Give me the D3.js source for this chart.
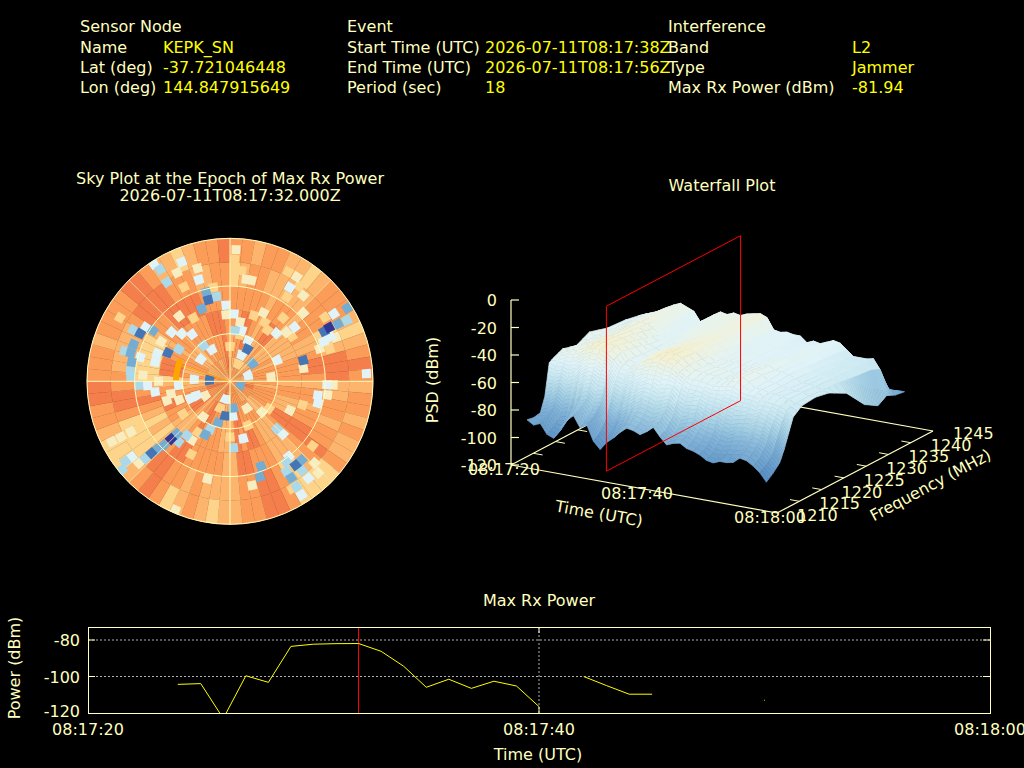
<!DOCTYPE html>
<html>
<head>
<meta charset="utf-8">
<script src="https://cdn.jsdelivr.net/npm/d3@7"></script>
<style>
html, body { margin: 0; background: #000; }
svg { display: block; }
text { font-family: "DejaVu Sans", sans-serif; font-size: 16px; fill: #ffffbf; }
</style>
</head>
<body>
<svg id="chart" width="1024" height="768"></svg>
<script>
var cream = '#ffffbf', yellow = '#ffff00', red = '#ff0000';

// header
var headerCol1 = [['Name', 'KEPK_SN'], ['Lat (deg)', '-37.721046448'], ['Lon (deg)', '144.847915649']];
var headerCol2 = [['Start Time (UTC)', '2026-07-11T08:17:38Z'], ['End Time (UTC)', '2026-07-11T08:17:56Z'], ['Period (sec)', '18']];
var headerCol3 = [['Band', 'L2'], ['Type', 'Jammer'], ['Max Rx Power (dBm)', '-81.94']];

// sky plot, orange background: one row per 5 deg of azimuth, one column per 15 deg of zenith angle
var skyBackground = [
  [8,7,8,8,6,8],[7,8,8,8,7,8],[7,8,9,8,8,7],[8,9,9,8,8,8],[8,8,8,8,7,8],[7,7,7,7,7,7],
  [8,7,8,8,7,7],[8,7,9,8,7,6],[7,8,9,8,7,7],[7,7,7,7,8,8],[7,7,7,8,8,8],[8,7,7,8,8,8],
  [8,8,7,7,6,7],[8,7,7,7,6,6],[7,8,8,8,7,7],[7,8,8,9,9,8],[7,8,8,9,9,9],[7,8,8,8,9,8],
  [8,8,7,7,7,7],[8,7,8,8,7,8],[9,8,8,8,8,8],[9,8,7,7,8,7],[8,8,7,8,7,8],[8,8,7,8,8,7],
  [8,8,9,9,8,7],[8,7,9,9,9,8],[8,7,8,8,8,6],[8,7,7,7,7,6],[7,8,7,7,6,6],[7,8,7,7,6,6],
  [8,8,8,8,8,8],[8,8,9,8,9,9],[8,8,9,8,9,9],[8,9,8,9,8,8],[8,9,9,9,8,8],[8,7,8,7,7,7],
  [8,7,7,7,7,7],[8,7,7,8,7,6],[8,8,8,8,7,7],[9,8,8,8,8,8],[9,8,8,8,7,7],[8,9,8,8,8,6],
  [8,9,9,9,8,8],[8,8,8,9,9,9],[8,8,7,8,9,8],[8,8,7,7,7,7],[8,9,7,6,6,6],[8,9,8,7,6,6],
  [8,8,8,6,6,6],[8,8,9,7,6,7],[9,8,9,8,8,8],[9,8,8,9,9,8],[8,7,8,8,9,9],[8,7,7,7,8,9],
  [8,7,6,6,8,8],[8,8,9,6,7,8],[8,7,9,6,7,8],[8,7,9,6,7,7],[7,8,8,6,7,8],[7,8,8,6,7,8],
  [7,7,7,7,8,8],[7,7,8,8,9,8],[8,7,8,8,9,9],[8,7,8,9,9,9],[8,8,8,9,9,8],[8,7,8,9,8,7],
  [7,8,8,9,8,7],[7,8,8,9,8,6],[8,8,9,8,7,7],[8,8,9,8,7,8],[9,9,9,8,8,8],[9,8,8,8,8,9]
];
// single cells standing out from it: azimuth, zenith angle, level
var skyCells = [
  [61.5,71,0],[62,67,1],[62,77,2],[62.4,83,3],[58,87,2],[57,78,4],[67,64,4],[66,69,4],[67.4,72,5],[74,48,1],
  [80,47,5],[66,32.5,4],[28.4,23,1],[23.6,18,4],[24,28,4],[51.6,18,2],[72,12,4],[84,26,5],[44,42,4],[50,53,4],
  [49,47,5],[47,63,5],[32.5,70,4],[32.6,78,5],[40.5,71,5],[26,48,5],[30.5,43,6],[9,65,5],[12,65,5],[6,70,6],[2.6,83,5],
  [2.3,77,6],[5.6,32,3],[13,33,4],[3.4,42.5,4],[9.6,38,5],[357,48,4],[356.6,42,5],[345,53,1],[345,58,2],
  [351,54,3],[338.7,49,2],[343,67,4],[338,81,4],[328,83,3],[327.5,74,3],[327,88,4],[334,76,5],[298,64,1],[303.4,58,2],
  [298,69,3],[291,65,2],[286,65,2],[281,63,2],[276,63,3],[272.5,62.5,3],[286,69,3],[285,58.5,4],[302.6,63,4],[294.6,43,1],
  [291,49,4],[284.5,48.6,4],[302,38,3],[310,48,4],[314.6,42.6,4],[321,38,4],[323.5,28,3],[330,23,4],[307,23,4],[273,13,1],
  [273,22.6,4],[112,7,2],[193.7,11.6,4],[173,17,2],[188,22,1],[175.5,22,4],[196,27,2],[205,37,2],[202.6,32.6,3],[217,28,5],
  [177,42,3],[167,37,4],[160,57,2],[162.6,63,2],[168,67,5],[193,63,5],[203,88,5],[187,88,6],[225.6,52,0],[225.5,47,2],
  [220.4,50,3],[226,58,2],[227.5,67,1],[227,62.5,2],[227.7,72,3],[228,77,5],[232.4,78,4],[232.5,83,3],[230.6,88,3],[218.7,43.5,3],
  [213,44,5],[243,70,5],[243,77,5],[243,83.5,5],[243,63,6],[267.5,57.6,3],[267,52,4],[262,47.6,4],[247,22.7,4],[246.6,27,4],
  [253,41.5,5],[265.6,32.5,4],[86.8,86,4],[99,56,4],[104,57,4],[92,65,5],[92,61,4],[115.8,42,5],[135.4,42,3],[135,47,4],
  [134,28,5],[142,67,1],[148,67,3],[147.6,72,2],[147.8,78.5,3],[147.8,84.5,4],[141,78.5,4],[137.8,67,2],[142,60,4],[134,74,5],[136,80,5],
  [145,62,3],[141,72,3],
  [56,72,6],[70,60,5],[72,66,6],[36,74,6],[28,78,6],[34,64,6],[40,52,6],[54,48,6],[20,44,6],[36,40,6],
  [334,66,6],[344,74,5],[350,60,6],[322,52,5],[330,46,6],[300,50,5],[274,55,5],[270,45,5],[258,38,5],[250,34,5],
  [240,18,5],[235,36,6],[212,38,6],[208,52,6],[200,18,6],[180,35,6],[158,30,6],[148,20,5],[125,30,6],[108,48,6],
  [98,62,5],[150,78,6],[128,66,6],[132,82,6],[238,72,6],[236,88,6],[300,80,6],[12,30,6],[0,22,6],[25,12,6]
];
var skyLevelColors = ['#313695','#4575b4','#74add1','#abd9e9','#e0f3f8','#f8edc0','#fdd48a','#fdb46c','#fb9d58','#f47f4c'];
// strongest cell and its direction
var peakAzimuths = [271, 294], peakZenith = 34, peakDirection = 288;

// waterfall: seconds after 08:17:20, one value per second
var psdTimes = [2.4,3.4,4.4,5.4,6.4,7.4,8.4,9.4,10.4,11.4,12.4,13.4,14.4,15.4,16.4,17.4,18.4,19.4,20.4,21.4,22.4,23.4,24.4,25.4,26.4,27.4,28.4,29.4,30.4,31.4,32.4,33.4,34.4,35.4,36.4,37.4,38.4];
var psdFreqs = [1210,1211.5,1213,1214,1215,1216,1218,1221,1224,1228,1232,1235,1237,1239,1241];
var psd1210 = [-85,-88,-86,-93,-95,-87,-80,-76,-84,-81,-92,-97,-91,-87,-82,-78,-79,-81,-78,-74,-80,-85,-83,-82,-85,-86,-88,-91,-92,-90,-90,-89,-85,-86,-89,-93,-99];
var psd1211 = [-86,-87,-84,-90,-92,-84,-77,-74,-80,-78,-88,-93,-88,-84,-79,-75,-76,-78,-75,-72,-77,-82,-80,-79,-82,-84,-85,-88,-89,-87,-87,-86,-82,-83,-86,-90,-95];
var psd1213 = [-85,-83,-80,-85,-84,-77,-71,-69,-74,-72,-80,-84,-79,-76,-71,-68,-69,-71,-69,-66,-70,-75,-73,-72,-75,-77,-78,-81,-82,-80,-79,-79,-75,-76,-79,-84,-90];
var psd1214 = [-75,-72,-68,-72,-70,-63,-58,-56,-60,-60,-68,-71,-66,-62,-58,-55,-56,-58,-56,-55,-60,-63,-62,-61,-64,-66,-67,-70,-71,-69,-68,-68,-65,-66,-69,-74,-82];
var psd1215 = [-52,-54,-53,-55,-52,-47,-44,-44,-47,-50,-56,-58,-54,-49,-46,-44,-44,-46,-46,-48,-51,-53,-53,-54,-56,-56,-57,-58,-59,-59,-59,-60,-58,-60,-62,-65,-72];
var psd1216 = [-50,-48,-46,-45,-43,-40,-38,-38,-40,-44,-49,-50,-47,-43,-40,-38,-37,-38,-40,-44,-47,-48,-48,-49,-50,-49,-48,-48,-50,-52,-52,-54,-54,-55,-56,-58,-62];
var psd1218 = [-47,-46,-44,-42,-40,-38,-37,-37,-38,-41,-46,-48,-45,-41,-38,-37,-36,-36,-38,-42,-45,-46,-46,-47,-48,-47,-45,-44,-47,-50,-50,-52,-52,-53,-54,-56,-57];
var psd1221 = [-50,-47,-45,-43,-41,-39,-38,-38,-40,-43,-47,-49,-46,-42,-39,-38,-37,-37,-39,-43,-46,-47,-47,-48,-49,-47,-46,-45,-47,-50,-51,-52,-53,-54,-54,-56,-56];
var psd1224 = [-45,-47,-46,-44,-42,-40,-39,-40,-43,-46,-48,-50,-47,-44,-41,-39,-39,-38,-40,-44,-47,-48,-48,-49,-49,-48,-47,-46,-48,-49,-50,-52,-54,-54,-55,-57,-58];
var psd1228 = [-49,-48,-46,-44,-41,-40,-41,-43,-47,-48,-47,-46,-45,-43,-42,-41,-40,-40,-42,-46,-48,-48,-48,-49,-50,-49,-48,-47,-48,-49,-51,-53,-55,-55,-56,-58,-65];
var psd1232 = [-50,-49,-47,-45,-42,-41,-42,-45,-50,-49,-47,-45,-44,-43,-43,-42,-41,-40,-42,-47,-49,-49,-49,-50,-51,-50,-50,-49,-48,-49,-52,-55,-56,-56,-56,-60,-80];
var psd1235 = [-52,-50,-49,-46,-43,-42,-43,-45,-51,-49,-46,-44,-44,-42,-43,-41,-40,-39,-41,-48,-49,-49,-49,-50,-52,-51,-51,-50,-49,-49,-53,-57,-57,-57,-57,-61,-86];
var psd1237 = [-54,-52,-50,-48,-44,-42,-44,-46,-53,-50,-46,-43,-44,-42,-43,-41,-40,-39,-41,-49,-50,-49,-50,-50,-54,-52,-53,-51,-49,-50,-54,-58,-58,-58,-57,-64,-82];
var psd1239 = [-70,-68,-66,-65,-62,-60,-62,-66,-70,-68,-64,-62,-62,-60,-62,-60,-60,-58,-60,-66,-68,-67,-68,-68,-70,-69,-70,-68,-67,-68,-71,-74,-74,-74,-80,-83,-85];
var psd1241 = [-86,-85,-84,-86,-85,-84,-85,-86,-87,-86,-85,-84,-85,-83,-85,-84,-84,-83,-84,-85,-86,-85,-86,-86,-87,-86,-87,-86,-85,-86,-87,-88,-87,-88,-87,-86,-86];
var psdRows = [psd1210,psd1211,psd1213,psd1214,psd1215,psd1216,psd1218,psd1221,psd1224,psd1228,psd1232,psd1235,psd1237,psd1239,psd1241];
var psdTicks = [0,-20,-40,-60,-80,-100,-120];
var freqTicks = [1210,1215,1220,1225,1230,1235,1240,1245];
var timeTicks = [0,20,40], timeTickLabels = ['08:17:20','08:17:40','08:18:00'];
var epochTime = 12, planeFreqs = [1213.5,1243.6];

// max rx power, seconds after 08:17:20, null where nothing was received
var powerTimes = [4,5,6,7,8,9,10,11,12,13,14,15,16,17,18,19,20,21,22,23,24,25,26,27,28,29,30,31];
var powerValues = [-104.3,-103.9,-123,-99.6,-103.2,-83.5,-82.3,-82,-81.94,-86.2,-94.4,-105.9,-101.5,-106.5,-102.6,-105.2,-116.5,null,-100.1,-105,-109.7,-109.7,null,null,null,null,-113,null];
var powerTicks = [-80,-100,-120];

var svg = d3.select('#chart');

function label(g, x, y, str, anchor, fill, rotate) {
    var t = g.append('text').attr('x', x).attr('y', y).text(str)
        .attr('text-anchor', anchor || 'start');
    if(fill) t.style('fill', fill);
    if(rotate) t.attr('transform', 'rotate('+rotate+' '+x+' '+y+')');
    return t;
}

// ---------- header ----------
var head = svg.append('g');
function header_col(title, rows, x1, x2) {
    label(head, x1, 32, title);
    rows.forEach(function(r, i) {
        label(head, x1, 53 + i*20, r[0]);
        label(head, x2, 53 + i*20, r[1], 'start', yellow);
    });
}
header_col('Sensor Node', headerCol1, 80, 163);
header_col('Event', headerCol2, 347, 485);
header_col('Interference', headerCol3, 668, 852);

// ---------- sky plot ----------
var sky = svg.append('g').attr('transform', 'translate(230,381.3)');
label(sky, 0, -197, 'Sky Plot at the Epoch of Max Rx Power', 'middle');
label(sky, 0, -180, '2026-07-11T08:17:32.000Z', 'middle');

var zenScale = d3.scaleLinear().domain([0, 90]).range([0, 143]);
var azScale = d3.scaleLinear().domain([0, 360]).range([0, 2*Math.PI]);
var skyColor = d3.scaleOrdinal().domain(d3.range(10)).range(skyLevelColors);
var skyArc = d3.arc();

var background = [];
skyBackground.forEach(function(row, a) {
    row.forEach(function(v, b) { background.push({a: a*5, b: b*15, v: v}); });
});
sky.selectAll('path.bg').data(background).enter().append('path')
    .attr('class', 'bg')
    .attr('d', function(d) {
        return skyArc({innerRadius: zenScale(d.b), outerRadius: zenScale(d.b+15), startAngle: azScale(d.a), endAngle: azScale(d.a+5)});
    })
    .attr('fill', function(d) { return skyColor(d.v); })
    .attr('stroke', function(d) { return skyColor(d.v); })
    .attr('stroke-width', 0.4);

// paler cells first, the dark ones stay on top
var sortedCells = skyCells.slice().sort(function(a, b) { return b[2] - a[2]; });
sky.selectAll('path.cell').data(sortedCells).enter().append('path')
    .attr('class', 'cell')
    .attr('d', function(d) {
        var r = zenScale(d[1]), half = 4.5 / Math.max(r, 15);
        return skyArc({innerRadius: Math.max(r-4.5, 0), outerRadius: Math.min(r+4.5, 143), startAngle: azScale(d[0])-half, endAngle: azScale(d[0])+half});
    })
    .attr('fill', function(d) { return skyColor(d[2]); });

// strongest cell
sky.append('path')
    .attr('d', skyArc({innerRadius: zenScale(peakZenith)-3, outerRadius: zenScale(peakZenith)+3, startAngle: azScale(peakAzimuths[0]), endAngle: azScale(peakAzimuths[1])}))
    .attr('fill', '#ffa500');
sky.append('line')
    .attr('x1', 0).attr('y1', 0)
    .attr('x2', zenScale(peakZenith)*Math.sin(azScale(peakDirection)))
    .attr('y2', -zenScale(peakZenith)*Math.cos(azScale(peakDirection)))
    .attr('stroke', '#ffa500').attr('stroke-width', 1);

// grid
sky.selectAll('circle').data([30, 60, 90]).enter().append('circle')
    .attr('r', function(d) { return zenScale(d); })
    .attr('fill', 'none').attr('stroke', cream).attr('stroke-width', 1);
sky.selectAll('line.spoke').data(d3.range(0, 360, 45)).enter().append('line')
    .attr('class', 'spoke')
    .attr('x2', function(d) { return 143*Math.sin(azScale(d)); })
    .attr('y2', function(d) { return -143*Math.cos(azScale(d)); })
    .attr('stroke', cream).attr('stroke-width', function(d) { return d%90 == 0 ? 1 : 0.7; });

// ---------- waterfall ----------
var fall = svg.append('g');
label(fall, 722, 191, 'Waterfall Plot', 'middle');

var timeScale = d3.scaleLinear().domain([0, 40]).range([0, 1]);
var freqScale = d3.scaleLinear().domain([1210, 1245]).range([0, 1]);
var psdScale = d3.scaleLinear().domain([-120, 0]).range([0, 165]);
function project(s, f, p) {
    var ts = timeScale(s), fs = freqScale(f);
    return [511 + ts*266 + fs*156, 465 + ts*48 - fs*82 - psdScale(p)];
}
function seg(g, a, b, color, w) {
    g.append('line').attr('x1', a[0]).attr('y1', a[1]).attr('x2', b[0]).attr('y2', b[1])
        .attr('stroke', color).attr('stroke-width', w || 1);
}

// floor
seg(fall, project(0, 1210, -120), project(40, 1210, -120), cream, 1.2);
seg(fall, project(40, 1210, -120), project(40, 1245, -120), cream, 1.2);
seg(fall, project(0, 1210, -120), project(0, 1245, -120), cream, 1.2);
seg(fall, project(0, 1245, -120), project(40, 1245, -120), cream, 1.2);
freqTicks.slice(1, 7).forEach(function(f) {
    seg(fall, project(0, f, -120), project(1.4, f, -120), cream);
    seg(fall, project(40, f, -120), project(38.6, f, -120), cream);
});

// surface, drawn from the back to the front
var psdColor = d3.scaleLinear()
    .domain([-120, -100, -90, -80, -70, -60, -50, -44, -39, -36])
    .range(['#2f5fa8', '#4f86bf', '#6b9fcc', '#86b6d9', '#a8d2e5', '#c9e7f1', '#e0f3f8', '#e8f3ec', '#f0f2dc', '#f5efcc']);
var quads = [];
for(var j = psdFreqs.length-2; j >= 0; j--) {
    for(var i = 0; i < psdTimes.length-1; i++) {
        var c = [psdRows[j][i], psdRows[j][i+1], psdRows[j+1][i+1], psdRows[j+1][i]];
        quads.push({j: j, i: i, c: c, n: Math.min(8, Math.max(1, Math.ceil((d3.max(c)-d3.min(c))/3)))});
    }
}
var strips = [];
quads.forEach(function(q) {
    // tall walls are cut in strips so the colour can follow the height
    for(var k = q.n-1; k >= 0; k--) {
        var v0 = k/q.n, v1 = (k+1)/q.n;
        var mix = function(a, b, t) { return a + (b-a)*t; };
        var f0 = mix(psdFreqs[q.j], psdFreqs[q.j+1], v0), f1 = mix(psdFreqs[q.j], psdFreqs[q.j+1], v1);
        var a0 = mix(q.c[0], q.c[3], v0), b0 = mix(q.c[1], q.c[2], v0);
        var a1 = mix(q.c[0], q.c[3], v1), b1 = mix(q.c[1], q.c[2], v1);
        strips.push({
            pts: [project(psdTimes[q.i], f0, a0), project(psdTimes[q.i+1], f0, b0), project(psdTimes[q.i+1], f1, b1), project(psdTimes[q.i], f1, a1)],
            p: (a0+b0+a1+b1)/4
        });
    }
});
fall.append('g').selectAll('path').data(strips).enter().append('path')
    .attr('d', function(d) { return d3.line()(d.pts)+'Z'; })
    .attr('fill', function(d) { return psdColor(d.p); })
    .attr('stroke', function(d) { return psdColor(d.p); })
    .attr('stroke-width', 0.7);

// epoch plane
var planeLoop = [project(epochTime, planeFreqs[0], -120), project(epochTime, planeFreqs[1], -120), project(epochTime, planeFreqs[1], 0), project(epochTime, planeFreqs[0], 0)];
fall.append('path').attr('d', d3.line()(planeLoop)+'Z')
    .attr('fill', 'none').attr('stroke', red).attr('stroke-width', 1);

// psd axis
seg(fall, project(0, 1210, 0), project(0, 1210, -120), cream, 1.2);
psdTicks.forEach(function(p) {
    var q = project(0, 1210, p);
    seg(fall, q, [q[0]+8, q[1]], cream, 1.2);
    label(fall, q[0]-14, q[1]+6, p, 'end');
});
label(fall, 438, 380, 'PSD (dBm)', 'middle', null, -90);

timeTicks.forEach(function(s, i) {
    var q = project(s, 1210, -120);
    label(fall, q[0]-7, q[1]+10, timeTickLabels[i], 'middle');
});
freqTicks.forEach(function(f) {
    var q = project(40, f, -120);
    label(fall, q[0]+20, q[1]+8, f);
});
label(fall, 598, 519, 'Time (UTC)', 'middle', null, 10);
label(fall, 933, 490, 'Frequency (MHz)', 'middle', null, -28);

// ---------- max rx power ----------
var pw = svg.append('g');
label(pw, 539, 606, 'Max Rx Power', 'middle');

var x = d3.scaleLinear().domain([0, 40]).range([88, 990]);
var y = d3.scaleLinear().domain([-120, -80]).range([713, 640]);

svg.append('defs').append('clipPath').attr('id', 'pw-clip').append('rect')
    .attr('x', x(0)).attr('y', 627).attr('width', x(40)-x(0)).attr('height', 713-627);

powerTicks.slice(0, 2).forEach(function(p) {
    pw.append('line').attr('x1', x(0)).attr('x2', x(40)).attr('y1', y(p)).attr('y2', y(p))
        .attr('stroke', '#dddddd').attr('stroke-width', 0.8).attr('stroke-dasharray', '2,2');
    pw.append('line').attr('x1', x(0)).attr('x2', x(0)+7).attr('y1', y(p)).attr('y2', y(p)).attr('stroke', cream);
    pw.append('line').attr('x1', x(40)-7).attr('x2', x(40)).attr('y1', y(p)).attr('y2', y(p)).attr('stroke', cream);
});
pw.append('line').attr('x1', x(20)).attr('x2', x(20)).attr('y1', 627).attr('y2', 713)
    .attr('stroke', '#dddddd').attr('stroke-width', 0.8).attr('stroke-dasharray', '2,2');
pw.append('line').attr('x1', x(20)).attr('x2', x(20)).attr('y1', 627).attr('y2', 633).attr('stroke', cream);
pw.append('line').attr('x1', x(20)).attr('x2', x(20)).attr('y1', 707).attr('y2', 713).attr('stroke', cream);

pw.append('line').attr('x1', x(epochTime)).attr('x2', x(epochTime)).attr('y1', 627).attr('y2', 713)
    .attr('stroke', red).attr('stroke-width', 1).attr('shape-rendering', 'crispEdges');

var powerLine = d3.line()
    .defined(function(d) { return d[1] !== null; })
    .x(function(d) { return x(d[0]); })
    .y(function(d) { return y(d[1]); });
pw.append('path').datum(d3.zip(powerTimes, powerValues))
    .attr('d', powerLine)
    .attr('clip-path', 'url(#pw-clip)')
    .attr('fill', 'none').attr('stroke', yellow).attr('stroke-width', 1).attr('stroke-linecap', 'round');

pw.append('rect').attr('x', x(0)).attr('y', 627).attr('width', x(40)-x(0)).attr('height', 713-627)
    .attr('fill', 'none').attr('stroke', cream).attr('stroke-width', 1).attr('shape-rendering', 'crispEdges');

powerTicks.forEach(function(p) {
    label(pw, 80, y(p)+ (p == -120 ? 4 : 6), p, 'end');
});
timeTicks.forEach(function(s, i) {
    label(pw, x(s), 735, timeTickLabels[i], 'middle');
});
label(pw, 538, 760, 'Time (UTC)', 'middle');
label(pw, 20, 668, 'Power (dBm)', 'middle', null, -90);
</script>
</body>
</html>
